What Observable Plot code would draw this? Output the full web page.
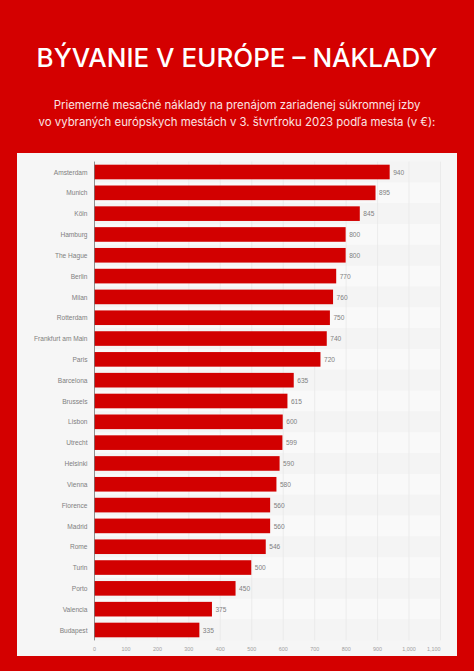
<!DOCTYPE html>
<html>
<head>
<meta charset="utf-8">
<script src="https://cdn.jsdelivr.net/npm/d3@7"></script>
<script src="https://cdn.jsdelivr.net/npm/@observablehq/plot@0.6"></script>
<style>
html,body{margin:0;padding:0;width:474px;height:671px;overflow:hidden;background:#d40000;font-family:Inter,sans-serif}
#title{position:absolute;left:0;top:41px;width:474px;text-align:center;color:#fff;font-size:26px;font-weight:500;line-height:34px;white-space:nowrap}
#sub{position:absolute;left:0;top:97px;width:474px;text-align:center;color:#fbe3e3;font-size:11.4px;line-height:17px;white-space:nowrap}
#panel{position:absolute;left:17px;top:153px;width:440px;height:503px;background:#f6f6f6}
#panel svg{display:block}
</style>
</head>
<body>
<div id="title">BÝVANIE V EURÓPE – NÁKLADY</div>
<div id="sub">Priemerné mesačné náklady na prenájom zariadenej súkromnej izby<br>vo vybraných európskych mestách v 3. štvrťroku 2023 podľa mesta (v €):</div>
<div id="panel"></div>
<script>
const cities = ["Amsterdam","Munich","Köln","Hamburg","The Hague","Berlin","Milan","Rotterdam","Frankfurt am Main","Paris","Barcelona","Brussels","Lisbon","Utrecht","Helsinki","Vienna","Florence","Madrid","Rome","Turin","Porto","Valencia","Budapest"];
const costs = [940,895,845,800,800,770,760,750,740,720,635,615,600,599,590,580,560,560,546,500,450,375,335];
const xTicks = [0,100,200,300,400,500,600,700,800,900,1000];
const xLimit = 1100;
const rows = cities.map((city,i)=>({city,cost:costs[i],odd:i%2===1}));
const red = "#d20000";

const chart = Plot.plot({
  width:440,height:503,
  marginLeft:77,marginRight:17,marginTop:8.6,marginBottom:15.6,
  style:{background:"transparent",fontFamily:"Liberation Sans, Arial, sans-serif",overflow:"visible"},
  x:{domain:[0,xLimit],axis:null},
  y:{domain:cities,padding:0,round:false,axis:null},
  marks:[
    Plot.barX(rows,{y:"city",x1:0,x2:xLimit,fill:d=>d.odd?"#f9f9f9":"#f4f4f4"}),
    Plot.ruleX([...xTicks,xLimit],{x:d=>d,stroke:"#e8e8e8",strokeWidth:0.8}),
    Plot.barX(rows,{y:"city",x1:0,x2:"cost",fill:red,insetTop:3.1,insetBottom:3.1}),
    Plot.ruleX([0],{stroke:"#777",strokeWidth:0.8}),
    Plot.text(rows,{y:"city",x:0,text:"city",textAnchor:"end",dx:-7,fill:"#808080",fontSize:6.6}),
    Plot.text(rows,{y:"city",x:"cost",text:d=>String(d.cost),textAnchor:"start",dx:3,fill:"#808080",fontSize:6.6}),
    Plot.axisX(xTicks,{anchor:"bottom",tickSize:0,tickPadding:6,tickFormat:d3.format(","),fontSize:5.4,color:"#a0a0a0",fill:"#a0a0a0",label:null}),
    Plot.axisX([xLimit],{anchor:"bottom",tickSize:0,tickPadding:6,tickFormat:d3.format(","),textAnchor:"end",fontSize:5.4,color:"#a0a0a0",fill:"#a0a0a0",label:null})
  ]
});
document.getElementById("panel").appendChild(chart);
</script>
</body>
</html>
